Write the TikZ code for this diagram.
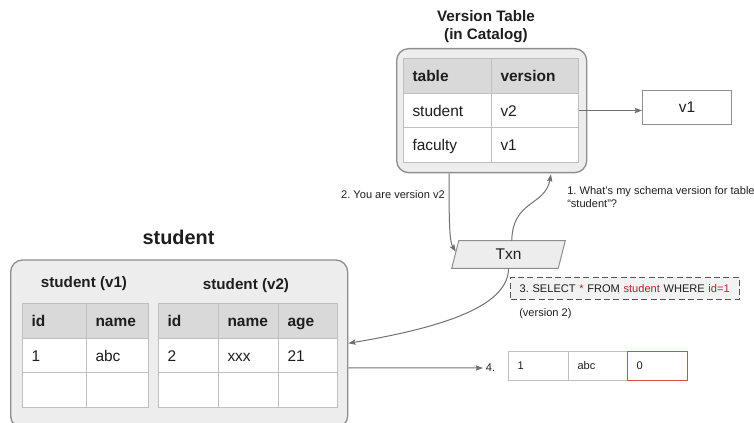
\documentclass[tikz,border=0pt]{standalone}
\usepackage{fontspec}
\setmainfont{Liberation Sans}
\usetikzlibrary{arrows.meta,calc,backgrounds}
\frenchspacing

\definecolor{panelfill}{HTML}{EDEDED}
\definecolor{panelline}{HTML}{8E8E8E}
\definecolor{headfill}{HTML}{D9D9D9}
\definecolor{gridline}{HTML}{BFBFBF}
\definecolor{wire}{HTML}{707070}
\definecolor{sqlred}{HTML}{A52A2A}
\definecolor{flagred}{HTML}{D64B4B}
\definecolor{ink}{HTML}{1E1E1E}
\definecolor{dashline}{HTML}{555555}
\definecolor{notefill}{HTML}{F2F2F2}

\newcommand{\bodyfont}{\fontsize{11.6pt}{13.9pt}\selectfont}
\newcommand{\smallfont}{\fontsize{8.3pt}{9.6pt}\selectfont}
\newcommand{\titlefont}{\fontsize{11.4pt}{13.6pt}\selectfont\bfseries}
\newcommand{\bigtitlefont}{\fontsize{14.9pt}{17.9pt}\selectfont\bfseries}

\begin{document}
\begin{tikzpicture}[x=0.75pt,y=-0.75pt,
  every node/.style={text=ink},
  panel/.style={draw=panelline, fill=panelfill, line width=1pt,
    rounded corners=9pt, anchor=north west, inner sep=0pt},
  cell/.style={draw=gridline, fill=white, line width=0.75pt, anchor=north west,
    inner xsep=6.75pt, inner ysep=0pt, minimum height=26pt,
    /utils/exec={\pgfmathsetlengthmacro\cellw{(#1-18)*0.75pt}},
    text width=\cellw, align=left, text height=8.3pt, text depth=0pt,
    font=\bodyfont},
  headcell/.style={cell=#1, fill=headfill, font=\bodyfont\bfseries},
  rowcell/.style={cell=#1, minimum height=21.75pt, text height=6pt,
    font=\smallfont},
  caption/.style={inner sep=0pt, font=\smallfont},
  link/.style={draw=wire, line width=0.75pt,
    -{Stealth[length=5.5pt,width=4pt,inset=1pt]}},
]
\useasboundingbox (0,0) rectangle (754,423);
\clip (0,0) rectangle (754,423);

% ---------- version table in the catalog ----------
\node[font=\titlefont, inner sep=0pt, anchor=base] (vtt1) at (486,21.7) {Version Table};
\node[font=\titlefont, inner sep=0pt, anchor=base] (vtt2) at (486,39.3) {(in Catalog)};
\node[panel, minimum width=142.5pt, minimum height=93pt] (vt) at (396,48) {};
\node[headcell=88] (vt-11) at (403,58)     {table};
\node[headcell=87] (vt-12) at (491,58)     {version};
\node[cell=88]     (vt-21) at (403,92.67)  {student};
\node[cell=87]     (vt-22) at (491,92.67)  {v2};
\node[cell=88]     (vt-31) at (403,127.33) {faculty};
\node[cell=87]     (vt-32) at (491,127.33) {v1};

% schema version object the catalog entry points to
\node[draw=panelline, line width=0.75pt, fill=white, anchor=north west,
  minimum width=66.75pt, minimum height=25.5pt, inner sep=0pt,
  font=\bodyfont] (v1) at (642,90) {v1};
\draw[link] (vt-22.east) -- (vt-22.east -| v1.west);

% ---------- transaction ----------
\node[minimum width=84.75pt, minimum height=20.25pt, inner sep=0pt,
  font=\bodyfont] (txn) at (508.5,254.5) {Txn};
\begin{scope}[on background layer]
  \draw[draw=panelline, fill=panelfill, line width=0.75pt]
    ($(txn.north west)+(7,0)$) -- (txn.north east)
    -- ($(txn.south east)+(-7,0)$) -- (txn.south west) -- cycle;
\end{scope}

% step 1: ask the catalog
\draw[link] ($(txn.north west)+(60,0)$)
  .. controls ($(txn.north west)+(61,-41)$) and ($(vt.south west)+(149,33)$)
  .. ($(vt.south west)+(155,1)$);
\node[caption, anchor=base west] (q1a) at (567,195) {1. What’s my schema version for table};
\node[caption, anchor=base west] (q1b) at (567,207.3) {“student”?};

% step 2: catalog answers
\draw[link] ($(vt.south west)+(53,0)$)
  .. controls ($(vt.south west)+(53,55)$) and ($(txn.north west)+(-2,1)$)
  .. ($(txn.north west)+(4,11)$);
\node[caption, anchor=base east] (a2) at (445,199) {2. You are version v2};

% ---------- the "student" table with both schema versions ----------
\node[font=\bigtitlefont, inner sep=0pt, anchor=base] (stt) at (178.5,244.3) {student};
\node[panel, minimum width=252.75pt, minimum height=126pt] (stud) at (10,259.3) {};

\node[font=\titlefont, inner sep=0pt, anchor=base] (s1t) at (84,287.6) {student (v1)};
\node[headcell=64] (s1-11) at (22,303)     {id};
\node[headcell=62] (s1-12) at (86,303)     {name};
\node[cell=64]     (s1-21) at (22,337.67)  {1};
\node[cell=62]     (s1-22) at (86,337.67)  {abc};
\node[cell=64]     (s1-31) at (22,372.33)  {};
\node[cell=62]     (s1-32) at (86,372.33)  {};

\node[font=\titlefont, inner sep=0pt, anchor=base] (s2t) at (246,289.2) {student (v2)};
\node[headcell=60] (s2-11) at (158,303)    {id};
\node[headcell=60] (s2-12) at (218,303)    {name};
\node[headcell=59] (s2-13) at (278,303)    {age};
\node[cell=60]     (s2-21) at (158,337.67) {2};
\node[cell=60]     (s2-22) at (218,337.67) {xxx};
\node[cell=59]     (s2-23) at (278,337.67) {21};
\node[cell=60]     (s2-31) at (158,372.33) {};
\node[cell=60]     (s2-32) at (218,372.33) {};
\node[cell=59]     (s2-33) at (278,372.33) {};

% step 3: the query
\node[draw=dashline, dash pattern=on 4.5pt off 2.5pt, line width=0.75pt,
  fill=notefill, anchor=north west, minimum width=171.75pt, minimum height=16.5pt,
  inner xsep=6.875pt, inner ysep=0pt, text width=158pt, align=left,
  text height=6pt, text depth=0pt, font=\smallfont] (sql) at (510,277)
  {3. SELECT \textcolor{sqlred}{*} FROM \textcolor{sqlred}{student} WHERE \textcolor{sqlred}{id=1}};
\node[caption, anchor=base west] (ver2) at (519,316.5) {(version 2)};
\draw[link] (txn.south)
  .. controls ($(txn.south)+(0,34)$) and ($(stud.north east)+(108,66)$)
  .. ($(stud.north east)+(0,84)$);

% step 4: the row that comes back
\node[caption, anchor=west, inner sep=2pt] (n4) at (483,368) {4.};
\draw[link] ($(stud.north east)+(0,108.7)$) -- (n4.west);
\node[rowcell=60] (r-1) at (508,351) {1};
\node[rowcell=59] (r-2) at (568,351) {abc};
\node[rowcell=60, draw=flagred] (r-3) at (627,351) {0};
\end{tikzpicture}
\end{document}
